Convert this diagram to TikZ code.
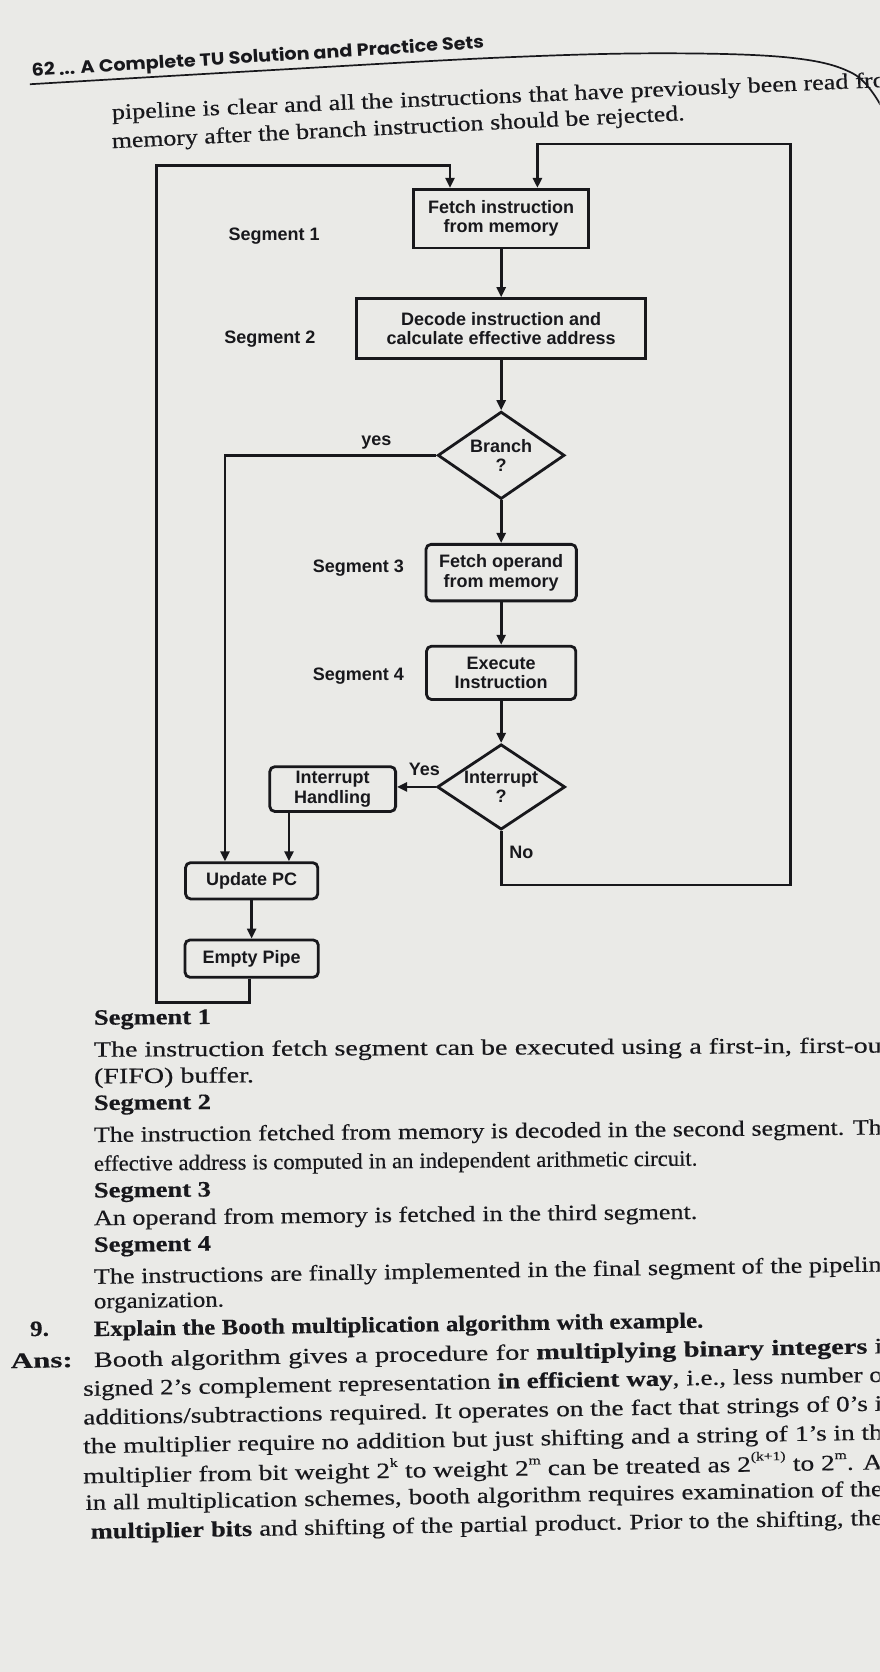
\documentclass[tikz,border=0pt]{standalone}
\usepackage{fontspec}
\usepackage{graphicx}
\setmainfont{Liberation Serif}[FakeBold=0.4]
\setsansfont{Liberation Sans}
\newfontfamily\headfont{Poppins}
\usetikzlibrary{shapes.geometric,arrows.meta}

\definecolor{paper}{RGB}{234,234,231}
\definecolor{ink}{RGB}{24,24,28}

\newcommand\bodysize{\fontsize{22}{26}\selectfont}
\newcommand\threedots{...}
% small raised exponent
\newcommand\expo[1]{\raisebox{0.5em}{\fontsize{12.5}{12.5}\selectfont #1}}

% a short printed line: name, x, baseline y, width (pt), slope angle, text
\newcommand\bodyline[6]{\node[txt, rotate=#5] (#1) at (#2,#3) {\bodysize\resizebox{#4pt}{\height}{#6}};}

% a long sloping line set as a chain of word groups, all squeezed by one factor
% so that the whole line is #4 pt long: prefix, x, baseline y, width, angle, font, groups
\newdimen\chainw
\newbox\chainbox
\newcommand\chainline[7]{%
  \global\chainw=0pt
  \foreach \c [count=\i] in {#7}{%
    \setbox\chainbox=\hbox{\pgfinterruptpicture#6\ifnum\i>1\ \fi\c\endpgfinterruptpicture}%
    \global\advance\chainw by \wd\chainbox}%
  \ifdim\chainw>100pt
    \pgfmathsetmacro\chainf{#4/\chainw}%
  \else
    \def\chainf{1}%
  \fi
  \foreach \c [count=\i, remember=\i as \j (initially 0)] in {#7}{%
    \ifnum\i=1
      \node[txt, rotate=#5] (#1-\i) at (#2,#3) {#6\scalebox{\chainf}[1]{\c}};
    \else
      \node[txt, rotate=#5] (#1-\i) at (#1-\j.base east) {#6\scalebox{\chainf}[1]{\ \c}};
    \fi}}

\begin{document}
\begin{tikzpicture}[x=1.0667pt,y=-1.0667pt,
  flow/.style={line width=2.8pt, draw=ink, line join=miter},
  arr/.style={flow, -{Triangle[length=10pt,width=9pt]}},
  chart/.style={font=\sffamily\bfseries\fontsize{18}{19.5}\selectfont, text=ink},
  box/.style={chart, draw=ink, line width=2.8pt, inner sep=0pt, align=center},
  rbox/.style={box, rounded corners=5pt},
  dia/.style={box, diamond, aspect=1.45},
  lbl/.style={chart, inner sep=0pt},
  sz/.style 2 args={minimum width=#1*1.0667pt, minimum height=#2*1.0667pt},
  txt/.style={anchor=base west, inner sep=0pt, text=ink},
]
\useasboundingbox (0,0) rectangle (825,1568);
\fill[paper] (0,0) rectangle (825,1568);
\clip (0,0) rectangle (825,1568);

% ---------- running head ----------
\chainline{head}{30}{72}{452}{3.6}{\headfont\bfseries\fontsize{17.5}{19}\selectfont}
  {62 \threedots{} A,Complete TU,Solution and,Practice Sets}
\draw[ink, line width=1.7pt] plot[smooth, tension=0.6] coordinates
  {(28,79) (250,66) (469,54) (620,50) (740,54) (800,69) (826,99)};

% ---------- opening lines ----------
\chainline{p1}{105}{112}{772}{2.4}{\bodysize}
  {pipeline is,clear and,all the,instructions,that have,previously,been read,fro}
\chainline{p2}{105}{139}{572}{2.8}{\bodysize}
  {memory after,the branch,instruction,should be,rejected.}

% ---------- flowchart ----------
\node[box,  sz={164}{55}] (fetch)  at (470,205) {Fetch instruction\\from memory};
\node[box,  sz={271}{56}] (decode) at (470,308) {Decode instruction and\\calculate effective address};
\node[dia,  sz={119}{82}] (branch) at (470,427) {Branch\\?};
\node[rbox, sz={141}{53}] (fop)    at (470,537) {Fetch operand\\from memory};
\node[rbox, sz={140}{50}] (exec)   at (470,631) {Execute\\Instruction};
\node[dia,  sz={120}{80}] (intr)   at (470,738) {Interrupt\\?};
\node[rbox, sz={118}{42}] (ih)     at (312,740) {Interrupt\\Handling};
\node[rbox, sz={124}{34}] (upc)    at (236,826) {Update PC};
\node[rbox, sz={125}{35}] (ep)     at (236,899) {Empty Pipe};

\node[lbl] (s1)   at (257,221) {Segment 1};
\node[lbl] (s2)   at (253,318) {Segment 2};
\node[lbl] (yes1) at (353,415) {yes};
\node[lbl] (s3)   at (336,533) {Segment 3};
\node[lbl] (s4)   at (336,634) {Segment 4};
\node[lbl] (yes2) at (398,722) {Yes};
\node[lbl] (no)   at (489,799) {No};

% corner points of the return paths
\coordinate (yx)  at (211,0);
\coordinate (ihx) at (271,0);
\coordinate (epx) at (234,940);
\coordinate (bl)  at (147,940);
\coordinate (tl)  at (147,155);
\coordinate (fx)  at (422,0);
\coordinate (br)  at (741,830);
\coordinate (tr)  at (741,135);
\coordinate (fx2) at (504,0);

\draw[arr] (fetch) -- (decode);
\draw[arr] (decode) -- (branch);
\draw[arr] (branch) -- (fop);
\draw[arr] (fop) -- (exec);
\draw[arr] (exec) -- (intr);
\draw[arr] (intr.west) -- (intr.west -| ih.east);
\draw[arr] (branch.west) -| (upc.north -| yx);
\draw[arr] (ih.south -| ihx) -- (upc.north -| ihx);
\draw[arr] (upc) -- (ep);
\draw[arr] (ep.south -| epx) -- (epx) -- (bl) -- (tl) -| (fetch.north -| fx);
\draw[arr] (intr.south) |- (br) -- (tr) -| (fetch.north -| fx2);

% ---------- text below the chart ----------
\bodyline{h1}{88}{961}{117}{0.4}{\textbf{Segment 1}}
\chainline{t1}{88}{991}{786}{0.3}{\bodysize}
  {The instruction,fetch segment,can be,executed using,{a first-in,},first-ou}
\bodyline{t2}{88}{1016}{160}{0.4}{(FIFO) buffer.}
\bodyline{h2}{88}{1041}{117}{0.5}{\textbf{Segment 2}}
\chainline{t3}{88}{1071}{786}{0.55}{\bodysize}
  {The instruction,fetched from,memory is,decoded in,the second,segment. Th}
\chainline{t4}{88}{1098}{602}{0.5}{\bodysize}
  {effective address,is computed,in an,independent,arithmetic circuit.}
\bodyline{h3}{88}{1123}{117}{0.5}{\textbf{Segment 3}}
\chainline{t5}{88}{1149}{602}{0.6}{\bodysize}
  {An operand,from memory,is fetched,in the third,segment.}
\bodyline{h4}{88}{1174}{117}{0.6}{\textbf{Segment 4}}
\chainline{t6}{88}{1204}{786}{0.9}{\bodysize}
  {The instructions,are finally,implemented,in the final,segment of,the pipelin}
\bodyline{t7}{88}{1227}{130}{0.8}{organization.}
\bodyline{q9}{28}{1253}{19}{0.8}{\textbf{9.}}
\chainline{qt}{88}{1253}{608}{0.8}{\bodysize\bfseries}
  {Explain the,Booth,multiplication,algorithm,with example.}
\bodyline{an}{10}{1283}{62}{1.0}{\textbf{Ans:}}
\chainline{a1}{88}{1282}{786}{1.0}{\bodysize}
  {Booth,algorithm,gives a,procedure,for,\textbf{multiplying},\textbf{binary},\textbf{integers} i}
\chainline{a2}{78}{1309}{797}{1.0}{\bodysize}
  {signed 2’s,complement,representation,\textbf{in efficient},{\textbf{way},},{i.e.,},less,number o}
\chainline{a3}{78}{1336}{797}{1.0}{\bodysize}
  {additions/subtractions,required.,It operates,on the,fact that,strings,of 0’s i}
\chainline{a4}{78}{1363}{797}{1.0}{\bodysize}
  {the multiplier,require no,addition,but just,shifting,and a,string of,1’s in th}
\chainline{a5}{78}{1391}{797}{1.0}{\bodysize}
  {multiplier,from bit,weight 2\expo{k},to weight,2\expo{m} can,be treated,as 2\expo{(k+1)},to 2\expo{m}. A}
\chainline{a6}{80}{1416}{795}{1.0}{\bodysize}
  {in all,multiplication,{schemes,},booth,algorithm,requires,examination,of the}
\chainline{a7}{85}{1443}{789}{1.0}{\bodysize}
  {\textbf{multiplier},\textbf{bits},and shifting,of the,partial,product.,Prior to,the,{shifting,},the}
\end{tikzpicture}
\end{document}
